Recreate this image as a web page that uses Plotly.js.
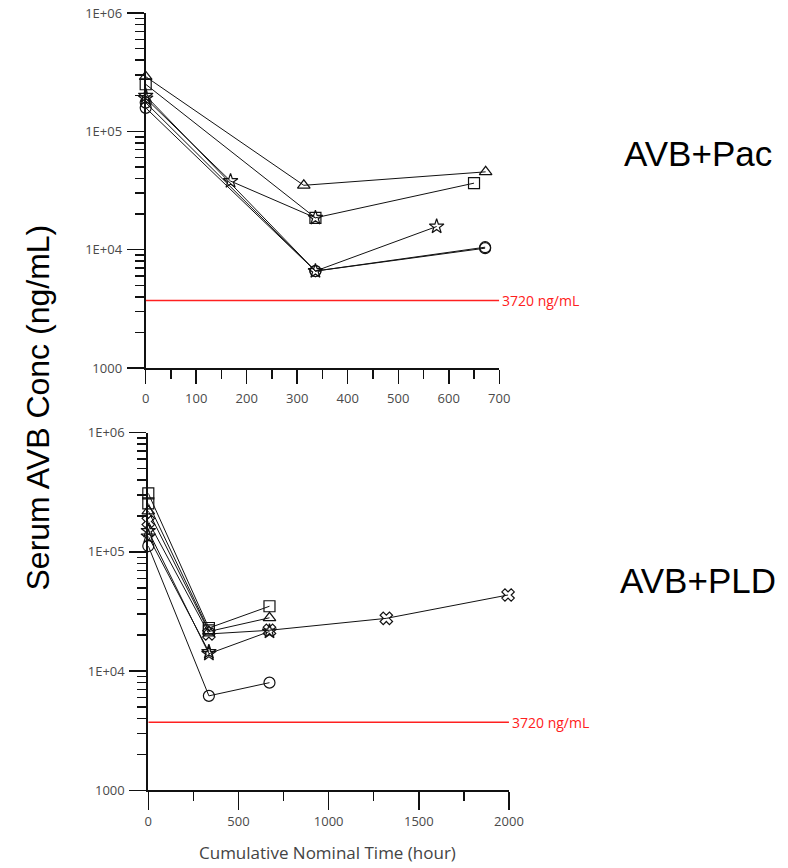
<!DOCTYPE html>
<html><head><meta charset="utf-8">
<script src="https://cdn.plot.ly/plotly-3.0.1.min.js"></script>
<style>html,body{margin:0;padding:0;background:#fff}#chart{width:788px;height:868px}</style>
</head><body><div id="chart"></div>
<script>
// ---- AVB+Pac (top panel) ----
const pacTriX = [0, 313, 673];
const pacTriY = [290000, 35000, 45500];
const pacSqX = [0, 336, 650];
const pacSqY = [250000, 18600, 36500];
const pacStarAX = [0, 168, 336];
const pacStarAY = [190000, 38000, 18600];
const pacStarBX = [0, 336, 576];
const pacStarBY = [200000, 6600, 15700];
const pacCircX = [0, 336, 672];
const pacCircY = [158000, 6600, 10500];
const pacCirc2X = [0, 336, 672];
const pacCirc2Y = [175000, 6600, 10300];

// ---- AVB+PLD (bottom panel) ----
const pldSqX = [0, 336, 672];
const pldSqY = [310000, 23000, 35000];
const pldTriX = [0, 336, 672];
const pldTriY = [220000, 21500, 28000];
const pldXX = [0, 336, 672, 1320, 1995];
const pldXY = [180000, 20500, 22000, 27700, 43500];
const pldStarX = [0, 336, 672];
const pldStarY = [150000, 14000, 21500];
const pldStar2X = [0, 336];
const pldStar2Y = [135000, 14500];
const pldCircX = [0, 336, 672];
const pldCircY = [112000, 6200, 8000];
const pldSq2X = [0, 336];
const pldSq2Y = [255000, 22000];

const thresholdValue = 3720;
const thresholdLabel = '3720 ng/mL';
const yTickVals = [1000, 10000, 100000, 1000000];
const yTickText = ['1000', '1E+04', '1E+05', '1E+06'];
const panelLabels = ['AVB+Pac', 'AVB+PLD'];

function minorVals() {
  const v = [];
  for (let d = 1000; d < 1000000; d *= 10) for (let k = 2; k <= 9; k++) v.push(d * k);
  return v;
}

function tr(x, y, sym, xa, ya) {
  return {x: x, y: y, type: 'scatter', mode: 'lines+markers', xaxis: xa, yaxis: ya,
    line: {color: '#111', width: 1},
    marker: {symbol: sym, size: 11, color: '#111', line: {color: '#111', width: 1.2}},
    cliponaxis: false, showlegend: false, hoverinfo: 'skip'};
}

const data = [
  tr(pacTriX, pacTriY, 'triangle-up-open', 'x', 'y'),
  tr(pacSqX, pacSqY, 'square-open', 'x', 'y'),
  tr(pacStarAX, pacStarAY, 'star-open', 'x', 'y'),
  tr(pacStarBX, pacStarBY, 'star-open', 'x', 'y'),
  tr(pacCircX, pacCircY, 'circle-open', 'x', 'y'),
  tr(pacCirc2X, pacCirc2Y, 'circle-open', 'x', 'y'),
  tr(pldSqX, pldSqY, 'square-open', 'x2', 'y2'),
  tr(pldSq2X, pldSq2Y, 'square-open', 'x2', 'y2'),
  tr(pldTriX, pldTriY, 'triangle-up-open', 'x2', 'y2'),
  tr(pldXX, pldXY, 'x-open', 'x2', 'y2'),
  tr(pldStarX, pldStarY, 'star-open', 'x2', 'y2'),
  tr(pldStar2X, pldStar2Y, 'star-open', 'x2', 'y2'),
  tr(pldCircX, pldCircY, 'circle-open', 'x2', 'y2')
];

const tickFont = {family: 'Open Sans, DejaVu Sans, sans-serif', size: 13, color: '#4a4a4a'};
function yax(domain, anchor) {
  return {type: 'log', range: [3, 6], domain: domain, anchor: anchor,
    showgrid: false, zeroline: false, showline: true, linecolor: '#111', linewidth: 2,
    ticks: 'outside', ticklen: 17, tickwidth: 1.5, tickcolor: '#111',
    tickvals: yTickVals, ticktext: yTickText, tickfont: tickFont, ticklabelstandoff: 2,
    minor: {tickvals: minorVals(), ticks: 'outside', ticklen: 9, tickwidth: 1.5, tickcolor: '#111', showgrid: false}};
}
function xax(domain, anchor, range, dtick, mdtick, tl, so) {
  return {range: range, domain: domain, anchor: anchor,
    showgrid: false, zeroline: false, showline: true, linecolor: '#111', linewidth: 2,
    ticks: 'outside', ticklen: tl, tickwidth: 1.5, tickcolor: '#111',
    dtick: dtick, tick0: 0, tickfont: tickFont, ticklabelstandoff: so,
    minor: {dtick: mdtick, tick0: 0, ticks: 'outside', ticklen: 9, tickwidth: 1.5, tickcolor: '#111', showgrid: false}};
}

const layout = {
  width: 788, height: 868,
  margin: {l: 0, r: 0, t: 0, b: 0},
  paper_bgcolor: '#fff', plot_bgcolor: '#fff',
  xaxis: xax([0.1849, 0.6336], 'y', [0, 700], 100, 50, 14, 3),
  yaxis: yax([0.576, 0.985], 'x'),
  xaxis2: xax([0.1882, 0.6459], 'y2', [0, 2000], 500, 250, 18, 0),
  yaxis2: yax([0.0895, 0.5015], 'x2'),
  shapes: [
    {type: 'line', xref: 'x', yref: 'y', x0: 0, x1: 700, y0: thresholdValue, y1: thresholdValue, line: {color: '#ff2020', width: 1.5}},
    {type: 'line', xref: 'x2', yref: 'y2', x0: 0, x1: 2000, y0: thresholdValue, y1: thresholdValue, line: {color: '#ff2020', width: 1.5}}
  ],
  annotations: [
    {xref: 'x', yref: 'y', x: 700, y: Math.log10(thresholdValue), text: thresholdLabel, showarrow: false, xanchor: 'left', xshift: 1,
      font: {family: 'Open Sans, DejaVu Sans, sans-serif', size: 14, color: '#ff2020'}},
    {xref: 'x2', yref: 'y2', x: 2000, y: Math.log10(thresholdValue), text: thresholdLabel, showarrow: false, xanchor: 'left', xshift: 1,
      font: {family: 'Open Sans, DejaVu Sans, sans-serif', size: 14, color: '#ff2020'}},
    {xref: 'paper', yref: 'paper', x: 698 / 788, y: 1 - 153 / 868, text: panelLabels[0], showarrow: false, xanchor: 'center', yanchor: 'middle',
      font: {family: 'Liberation Sans, Arial, sans-serif', size: 35, color: '#000'}},
    {xref: 'paper', yref: 'paper', x: 698 / 788, y: 1 - 580 / 868, text: panelLabels[1], showarrow: false, xanchor: 'center', yanchor: 'middle',
      font: {family: 'Liberation Sans, Arial, sans-serif', size: 35, color: '#000'}},
    {xref: 'paper', yref: 'paper', x: 37.5 / 788, y: 1 - 408 / 868, text: 'Serum AVB Conc (ng/mL)', showarrow: false, textangle: -90, xanchor: 'center', yanchor: 'middle',
      font: {family: 'Liberation Sans, Arial, sans-serif', size: 32, color: '#000'}},
    {xref: 'paper', yref: 'paper', x: 327 / 788, y: 2 / 868, text: 'Cumulative Nominal Time (hour)', showarrow: false, xanchor: 'center', yanchor: 'bottom',
      font: {family: 'Open Sans, DejaVu Sans, sans-serif', size: 17, color: '#444'}}
  ]
};

Plotly.newPlot('chart', data, layout, {staticPlot: true, displayModeBar: false});
</script>
</body></html>
